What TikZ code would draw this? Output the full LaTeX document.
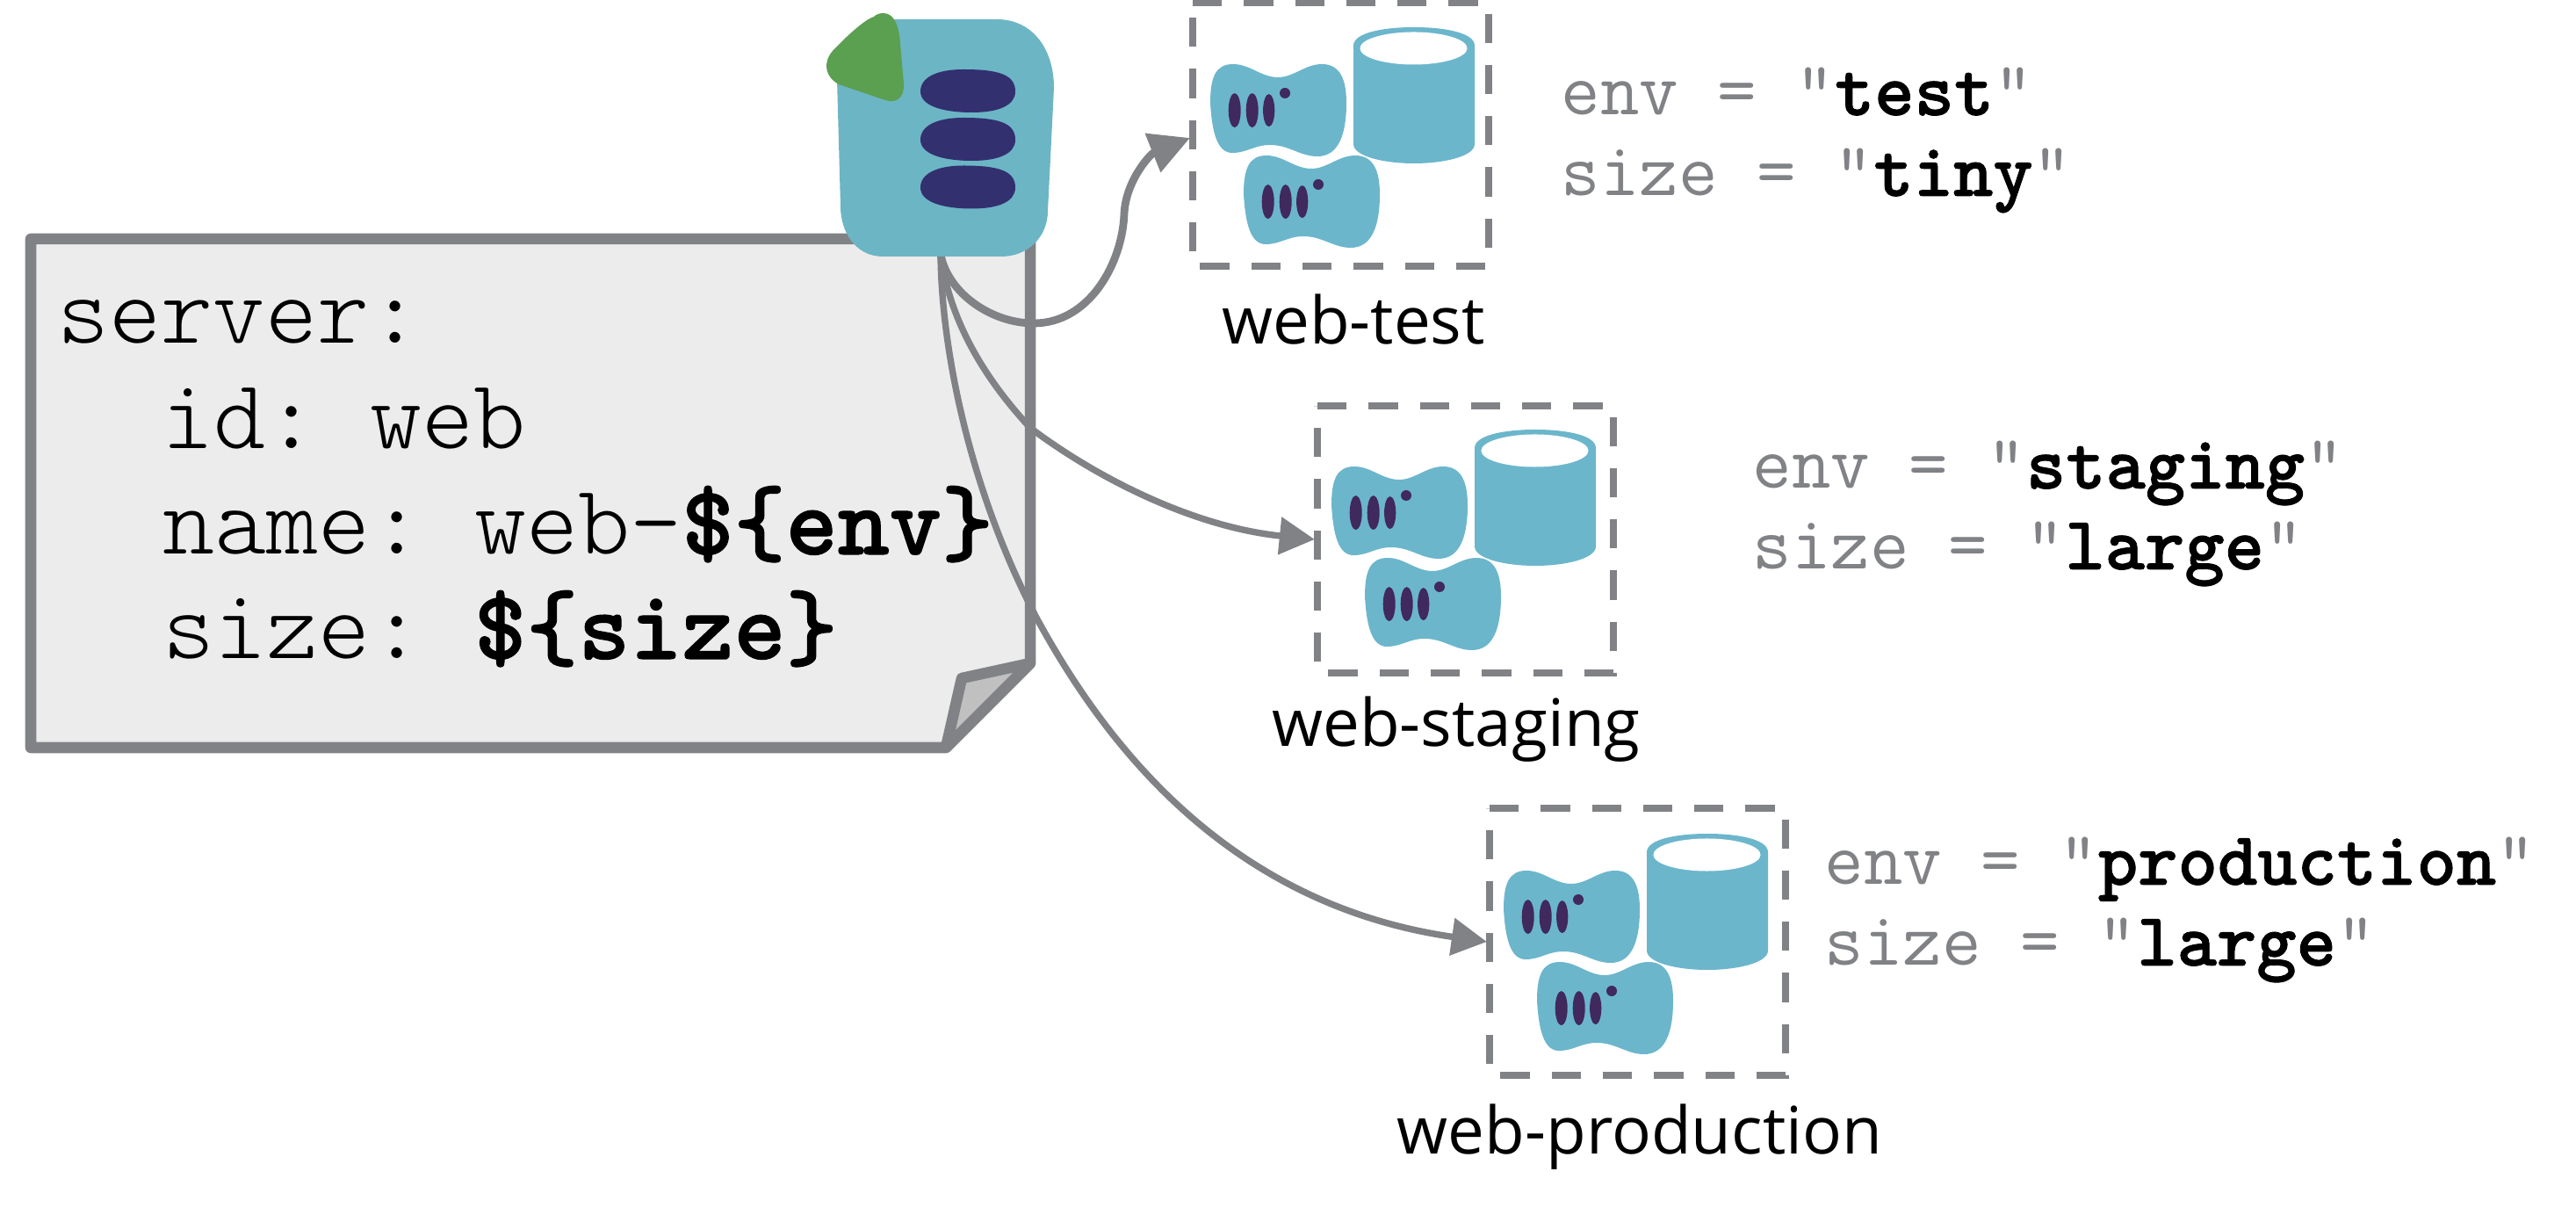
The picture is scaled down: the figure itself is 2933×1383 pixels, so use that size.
\documentclass[tikz,border=0pt]{standalone}
\usepackage{fontspec}
\usetikzlibrary{arrows.meta,calc}
\newfontfamily\labelfont{Open Sans}
\newfontfamily\codefont{Latin Modern Mono Light}[BoldFeatures={FakeBold=1.0}]
\newfontfamily\varfont{Latin Modern Mono}
\newcommand{\valbold}[1]{\textcolor{black}{\codefont\bfseries #1}}
\definecolor{linegray}{HTML}{808285}
\definecolor{notefill}{HTML}{ECECEC}
\definecolor{foldfill}{HTML}{C0C0C0}
\definecolor{teal}{HTML}{6CB6CC}
\definecolor{tealtop}{HTML}{6CB5C5}
\definecolor{leaf}{HTML}{5B9F51}
\definecolor{navy}{HTML}{33306F}
\definecolor{barcol}{HTML}{40295C}
\tikzset{
  codeline/.style={anchor=base west,inner sep=0pt,font=\codefont\frenchspacing\fontsize{32}{36}\selectfont,text=black},
  varline/.style={anchor=base west,inner sep=0pt,font=\varfont\frenchspacing\fontsize{24.55}{28}\selectfont,text=linegray},
  boxlabel/.style={anchor=base,inner sep=0pt,font=\labelfont\fontsize{21.2}{25}\selectfont,text=black},
  envbox/.style={draw=none,inner sep=0pt,outer sep=0pt,minimum width=3.37cm,minimum height=3.04cm},
  envedge/.style={draw=linegray,line width=2.28pt,dash pattern=on 9.47pt off 7.11pt},
  conn/.style={draw=linegray,line width=2.1pt,-{Triangle[length=11.4pt,width=11.8pt]}},
  connbig/.style={draw=linegray,line width=2.5pt,-{Triangle[length=13pt,width=13pt]}},
  pics/blob/.style={code={
    \fill[teal] (0,44) .. controls (0,15) and (6,0) .. (26,0) .. controls (45,0) and (58,15) .. (77,15) .. controls (95,15) and (108,0) .. (127,0) .. controls (148,0) and (155,18) .. (155,44) .. controls (155,80) and (146,105) .. (122,105) .. controls (102,105) and (90,92) .. (68,92) .. controls (50,92) and (42,101) .. (25,101) .. controls (8,101) and (2,78) .. (0,44) -- cycle;
    \fill[barcol] (27.7,52.6) ellipse [x radius=0.07cm,y radius=0.195cm];
    \fill[barcol] (47.7,52.6) ellipse [x radius=0.07cm,y radius=0.195cm];
    \fill[barcol] (66.7,52.6) ellipse [x radius=0.066cm,y radius=0.185cm];
    \fill[barcol] (85,33) circle [radius=0.06cm];
  }},
  pics/servers/.style={code={
    \pic at (16,71) {blob};
    \pic at (54,175) {blob};
    \fill[teal] (179,50) .. controls (179,35) and (214,29) .. (248,29) .. controls (282,29) and (317,35) .. (317,50) -- (317,162) .. controls (317,176) and (282,184) .. (248,184) .. controls (214,184) and (179,176) .. (179,162) -- cycle;
    \fill[white] (247.5,53) ellipse [x radius=0.61cm,y radius=0.185cm];
  }},
  pics/disc/.style={code={
    \fill[navy] (-54,0) .. controls (-54,-16) and (-35,-25) .. (-5,-25) .. controls (35,-25) and (54,-19) .. (54,0) .. controls (54,16) and (35,24) .. (5,24) .. controls (-30,24) and (-54,16) .. (-54,0) -- cycle;
  }},
}
\begin{document}
\begin{tikzpicture}[x=0.01cm,y=-0.01cm]
\useasboundingbox (0,0) rectangle (2933,1383);
% note
\draw[line width=3.56pt,line join=round,draw=linegray,fill=notefill]
  (35,272) -- (1173,272) -- (1173,755) -- (1077,851) -- (35,851) -- cycle;
\draw[line width=3.56pt,line join=round,draw=linegray,fill=foldfill]
  (1173,755) -- (1095,772) -- (1077,851) -- cycle;
\node[codeline] (l1) at (65,391) {server:};
\node[codeline] (l2) at (184,511) {id: web};
\node[codeline] (l3) at (185,631) {name: web-\textbf{\$\{env\}}};
\node[codeline] (l4) at (185,750) {size: \textbf{\$\{size\}}};
\coordinate (src) at (1071,290);
% environment boxes
\node[envbox,minimum height=3.0cm] (box1) at (1526.5,153) {};
\node[envbox] (box2) at (1668.5,614) {};
\node[envbox] (box3) at (1864.5,1072) {};
\foreach \b in {box1,box2,box3}{
  \path[envedge] (\b.north west) -- (\b.north east) -- (\b.south east) -- (\b.south west) -- cycle;
}
\pic at (1362,2) {servers};
\pic at (1500,460) {servers};
\pic at (1696,920) {servers};
\draw[connbig] (src) .. controls (1080,335) and (1130,368) .. (1177,368) .. controls (1240,368) and (1278,300) .. (1280,243) .. controls (1282,205) and (1310,175) .. ([xshift=-0.03cm,yshift=-0.04cm]box1.west);
\draw[conn] (src) .. controls (1082,370) and (1125,435) .. (1173,487) .. controls (1250,545) and (1360,600) .. ([xshift=-0.03cm]box2.west);
\draw[conn] (src) .. controls (1072,400) and (1105,560) .. (1180,703) .. controls (1260,850) and (1400,1030) .. ([xshift=-0.03cm]box3.west);
% top icon
\fill[tealtop] (953,90) .. controls (953,50) and (975,22) .. (1020,22) -- (1135,22) .. controls (1175,22) and (1200,55) .. (1200,100) -- (1193,240) .. controls (1193,270) and (1170,292) .. (1140,292) -- (1005,292) .. controls (975,292) and (957,265) .. (957,235) -- cycle;
\fill[leaf] (1006,15) .. controls (1018,15) and (1024,30) .. (1025,50) -- (1029,95) .. controls (1030,112) and (1020,118) .. (1008,114) -- (955,96) .. controls (940,88) and (936,72) .. (948,58) .. controls (965,40) and (985,22) .. (995,19) .. controls (998,16) and (1002,15) .. (1006,15) -- cycle;
\pic at (1102,104) {disc};
\pic at (1102,159) {disc};
\pic at (1102,213.5) {disc};
% labels
\node[boxlabel] (lab1) at (1541,392) {web-test};
\node[boxlabel] (lab2) at (1658,850) {web-staging};
\node[boxlabel] (lab3) at (1867,1313) {web-production};
% variables
\node[varline] (v1a) at (1777,131) {env = "\valbold{test}"};
\node[varline] (v1b) at (1777,223) {size = "\valbold{tiny}"};
\node[varline] (v2a) at (1995,556) {env = "\valbold{staging}"};
\node[varline] (v2b) at (1995,648) {size = "\valbold{large}"};
\node[varline] (v3a) at (2077,1007) {env = "\valbold{production}"};
\node[varline] (v3b) at (2077,1099) {size = "\valbold{large}"};
\end{tikzpicture}
\end{document}
